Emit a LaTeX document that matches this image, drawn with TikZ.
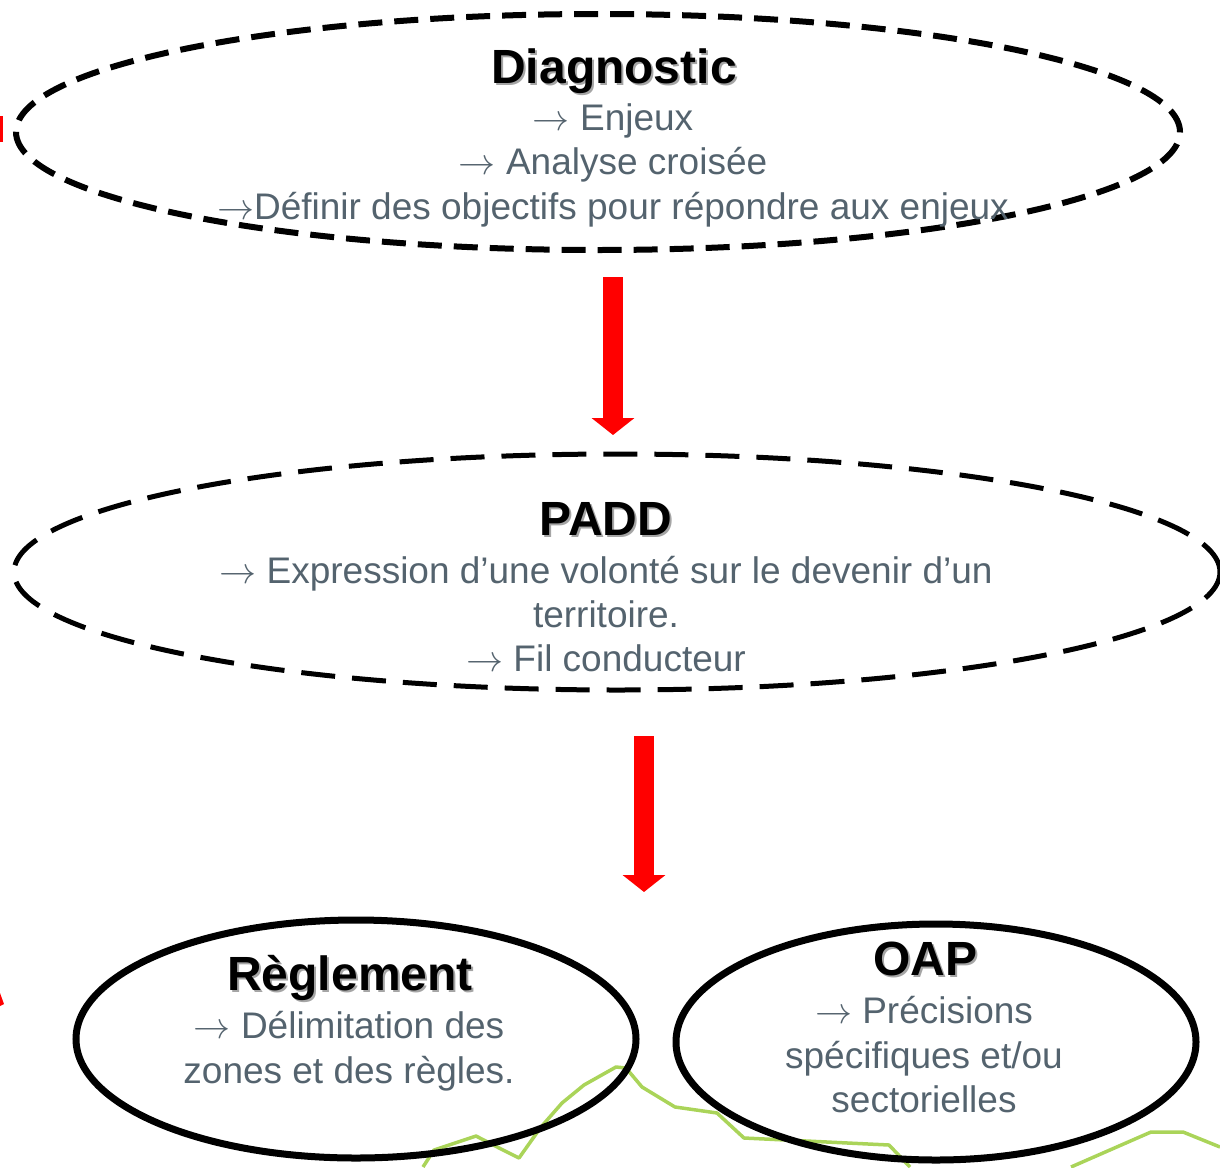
\RequirePackage{fix-cm}
\documentclass[tikz,border=0pt]{standalone}
\usepackage{fontspec}
\setmainfont{Liberation Sans}
\usetikzlibrary{shapes.geometric,arrows.meta}
\definecolor{txtgray}{RGB}{84,99,110}
\definecolor{leaf}{RGB}{155,205,60}
\definecolor{shadowgray}{RGB}{165,165,165}
\newcommand{\shadowed}[1]{\makebox[0pt][l]{\hspace{2pt}\raisebox{-2.5pt}{\textcolor{shadowgray}{#1}}}#1}
\newcommand{\arr}{$\rightarrow$}
\begin{document}
\begin{tikzpicture}[x=1pt,y=-1pt,
  oval/.style={ellipse, draw=black, inner sep=0pt},
  titletext/.style={font=\fontsize{48}{52}\selectfont\bfseries, text=black, anchor=base, inner sep=0pt},
  bodyline/.style={font=\fontsize{37}{44}\selectfont, text=txtgray, anchor=base, inner sep=0pt},
  bigarrow/.style={draw=red, line width=20pt, -{Triangle[width=42pt,length=17pt]}},
  greenline/.style={draw=leaf, line width=3.5pt, opacity=0.85, line join=round}]
\useasboundingbox (0,0) rectangle (1220,1167);
\clip (0,0) rectangle (1220,1167);

% green trace
\draw[greenline] (423,1167) -- (434,1150) -- (476,1136) -- (503,1150) -- (519,1158) -- (541,1127) -- (562,1103) -- (584,1085) -- (616,1067) -- (626,1068) -- (642,1087) -- (675,1107) -- (717,1113) -- (744,1138) -- (889,1145) -- (910,1167);
\draw[greenline] (1071,1167) -- (1151,1132) -- (1183,1132) -- (1220,1147);

% red fragments at left edge
\fill[red] (0,116) rectangle (3,142);
\fill[red] (0,993) -- (4,1004) -- (0,1006) -- cycle;

% ellipses
\node[oval, line width=6pt, dash pattern=on 24pt off 12pt, minimum width=1164pt, minimum height=236pt] (diag) at (598,132) {};
\node[oval, line width=5pt, dash pattern=on 34pt off 17pt, minimum width=1206pt, minimum height=236pt] (padd) at (617,572) {};
\node[oval, line width=7pt, minimum width=560pt, minimum height=238pt] (regl) at (356,1039) {};
\node[oval, line width=7pt, minimum width=520pt, minimum height=236pt] (oap) at (936,1042) {};

% arrows
\coordinate (a1s) at (613,277);
\coordinate (a1e) at (613,435);
\coordinate (a2s) at (644,736);
\coordinate (a2e) at (644,892);
\draw[bigarrow] (a1s) -- (a1e);
\draw[bigarrow] (a2s) -- (a2e);

% Diagnostic
\node[titletext] (diagT) at (614,83) {\shadowed{Diagnostic}};
\node[bodyline] (d1) at (613,130) {\arr\ Enjeux};
\node[bodyline] (d2) at (613,174) {\arr\ Analyse croisée};
\node[bodyline] (d3) at (613,219) {\arr Définir des objectifs pour répondre aux enjeux};

% PADD
\node[titletext] (paddT) at (606,535) {\shadowed{PADD}};
\node[bodyline] (p1) at (606,583) {\arr\ Expression d’une volonté sur le devenir d’un};
\node[bodyline] (p2) at (606,627) {territoire.};
\node[bodyline] (p3) at (606,671) {\arr\ Fil conducteur};

% Reglement
\node[titletext] (reglT) at (350,990) {\shadowed{Règlement}};
\node[bodyline] (r1) at (349,1038) {\arr\ Délimitation des};
\node[bodyline] (r2) at (349,1083) {zones et des règles.};

% OAP
\node[titletext] (oapT) at (925,975) {\shadowed{OAP}};
\node[bodyline] (o1) at (924,1023) {\arr\ Précisions};
\node[bodyline] (o2) at (924,1068) {spécifiques et/ou};
\node[bodyline] (o3) at (924,1112) {sectorielles};
\end{tikzpicture}
\end{document}
